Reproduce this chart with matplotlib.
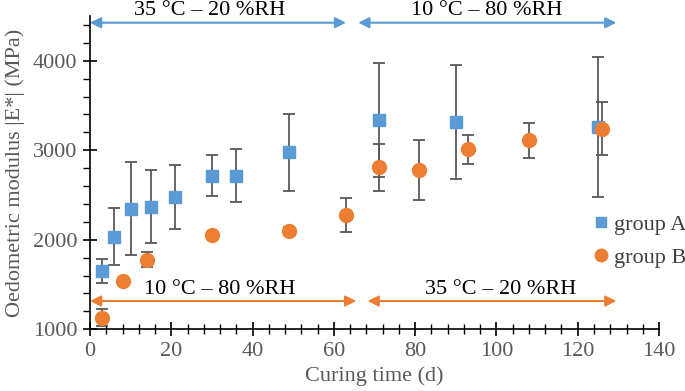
import matplotlib
matplotlib.use("Agg")
import matplotlib.pyplot as plt
from matplotlib.ticker import MultipleLocator
from matplotlib.lines import Line2D

plt.rcParams['font.family'] = ['Liberation Serif', 'DejaVu Serif']

# Group A (blue squares)
days_a = [3, 6, 10, 15, 21, 30, 36, 49, 71, 90, 125]
mod_a = [1655, 2035, 2345, 2370, 2475, 2715, 2715, 2980, 3340, 3316, 3257]
err_a = [135, 315, 520, 405, 360, 230, 295, 430, 640, 640, 780]

# Group B (orange circles)
days_b = [3, 8, 14, 30, 49, 63, 71, 81, 93, 108, 126]
mod_b = [1130, 1543, 1778, 2057, 2102, 2274, 2810, 2780, 3011, 3112, 3238]
err_b = [95, 20, 80, 25, 40, 190, 260, 340, 163, 193, 296]

labels = ["group A", "group B"]
phase_a = ["35 °C – 20 %RH", "10 °C – 80 %RH"]
phase_b = ["10 °C – 80 %RH", "35 °C – 20 %RH"]

blue = "#5B9BD5"
orange = "#ED7D31"
grey = "#595959"

fig = plt.figure(figsize=(6.85, 3.91), dpi=100)
ax = fig.add_axes([0.1314, 0.1578, 0.8307, 0.8013])

ax.errorbar(days_a, mod_a, yerr=err_a, fmt='s', color=blue, ms=8.5,
            ecolor=grey, elinewidth=1.3, capsize=4, capthick=1.3,
            label=labels[0], zorder=3)
ax.errorbar(days_b, mod_b, yerr=err_b, fmt='o', color=orange, ms=10,
            ecolor=grey, elinewidth=1.3, capsize=4, capthick=1.3,
            label=labels[1], zorder=3)

ax.set_xlim(0, 140)
ax.set_ylim(1000, 4500)
ax.xaxis.set_major_locator(MultipleLocator(20))
ax.xaxis.set_minor_locator(MultipleLocator(4))
ax.yaxis.set_major_locator(MultipleLocator(1000))
ax.yaxis.set_minor_locator(MultipleLocator(200))
ax.set_yticks([1000, 2000, 3000, 4000])

for s in ['top', 'right']:
    ax.spines[s].set_visible(False)
for s in ['left', 'bottom']:
    ax.spines[s].set_color('black')
    ax.spines[s].set_linewidth(1.2)

ax.tick_params(axis='x', which='major', direction='inout', length=10, width=1.2,
               labelsize=16, labelcolor=grey, pad=4)
ax.tick_params(axis='x', which='minor', direction='inout', length=7, width=1.0)
ax.tick_params(axis='y', which='major', direction='inout', length=10, width=1.2,
               labelsize=16, labelcolor=grey, pad=4)
ax.tick_params(axis='y', which='minor', direction='out', length=5, width=1.0)

ax.set_xlabel("Curing time (d)", fontsize=16, color=grey, labelpad=4)
ax.set_ylabel("Oedometric modulus |E*| (MPa)", fontsize=16, color=grey, labelpad=6)

# Phase arrows - group A (top, blue)
arr_y_top = 4425
ax.annotate("", xy=(0, arr_y_top), xytext=(63, arr_y_top),
            arrowprops=dict(arrowstyle='<|-|>', color=blue, lw=1.5,
                            mutation_scale=16, shrinkA=0, shrinkB=0),
            annotation_clip=False)
ax.annotate("", xy=(66, arr_y_top), xytext=(129.5, arr_y_top),
            arrowprops=dict(arrowstyle='<|-|>', color=blue, lw=1.5,
                            mutation_scale=16, shrinkA=0, shrinkB=0),
            annotation_clip=False)
ax.text(29.5, 4512, phase_a[0], fontsize=16, ha='center', va='baseline',
        color='black', clip_on=False)
ax.text(97.5, 4512, phase_a[1], fontsize=16, ha='center', va='baseline',
        color='black', clip_on=False)

# Phase arrows - group B (bottom, orange)
arr_y_bot = 1316
ax.annotate("", xy=(0, arr_y_bot), xytext=(65.5, arr_y_bot),
            arrowprops=dict(arrowstyle='<|-|>', color=orange, lw=1.5,
                            mutation_scale=16, shrinkA=0, shrinkB=0))
ax.annotate("", xy=(68.3, arr_y_bot), xytext=(129.5, arr_y_bot),
            arrowprops=dict(arrowstyle='<|-|>', color=orange, lw=1.5,
                            mutation_scale=16, shrinkA=0, shrinkB=0))
ax.text(32, 1445, phase_b[0], fontsize=16, ha='center', va='center', color='black')
ax.text(101, 1445, phase_b[1], fontsize=16, ha='center', va='center', color='black')

# Legend (markers only, no error bars)
handles = [Line2D([], [], marker='s', ls='none', color=blue, ms=7),
           Line2D([], [], marker='o', ls='none', color=orange, ms=9)]
leg = ax.legend(handles, labels, loc='upper left', bbox_to_anchor=(0.862, 0.395),
                frameon=False, fontsize=16, handletextpad=0.1, handlelength=1.0,
                labelspacing=0.55, borderaxespad=0)
for t in leg.get_texts():
    t.set_color('#404040')

fig.savefig("out.png", dpi=100)
